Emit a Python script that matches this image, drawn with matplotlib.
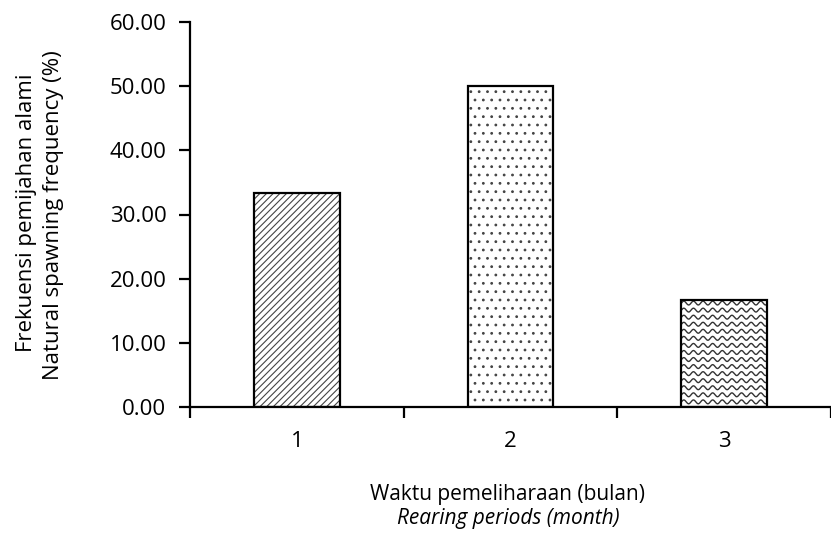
import numpy as np
import matplotlib.pyplot as plt

plt.rcParams['font.family'] = ['Open Sans', 'DejaVu Sans']
plt.rcParams['hatch.linewidth'] = 0.8

periods = [1, 2, 3]
period_labels = ['1', '2', '3']
spawning_freq = [33.33, 50.00, 16.67]
y_ticks = [0, 10, 20, 30, 40, 50, 60]

fig = plt.figure(figsize=(8.31, 5.38), dpi=100)
ax = fig.add_axes([190 / 831, 1 - 407 / 538, (831 - 190) / 831, (407 - 22) / 538])

x = np.array(periods)
# hatched fills first, black outlines on top
fills = ax.bar(x, spawning_freq, width=0.4, color='white', edgecolor='#444444',
               linewidth=0, zorder=2)
fills[0].set_hatch('/////')
fills[1].set_hatch('..')
bars = ax.bar(x, spawning_freq, width=0.4, color='none', edgecolor='black',
              linewidth=1.6, zorder=4)

# wavy fill for the third bar, clipped to its rectangle
b = fills[2]
bx0, bw, bh = b.get_x(), b.get_width(), b.get_height()
xs = np.linspace(bx0, bx0 + bw, 400)
for yy in np.arange(0.8, bh + 1.0, 1.1):
    line, = ax.plot(xs, yy + 0.3 * np.sin((xs - bx0) / 0.045 * 2 * np.pi),
                    color='#333333', lw=1.0, zorder=3)
    line.set_clip_path(b)

ax.set_xlim(0.5, 0.5 + (831 - 190) / 217)
ax.set_ylim(0, 60)
ax.set_yticks(y_ticks)
ax.set_yticklabels([f'{v:.2f}' for v in y_ticks])
ax.set_xticks(x)
ax.set_xticklabels(period_labels)
ax.set_xticks([0.5, 1.5, 2.5, 3.5], minor=True)
ax.tick_params(axis='x', which='major', length=0, pad=17, labelsize=16)
ax.tick_params(axis='x', which='minor', length=8, width=1.6, direction='out')
ax.tick_params(axis='y', length=8, width=1.6, direction='out', labelsize=16, pad=9)

for side in ['top', 'right']:
    ax.spines[side].set_visible(False)
for side in ['left', 'bottom']:
    ax.spines[side].set_linewidth(1.6)
ax.spines['bottom'].set_bounds(0.5, 3.5)

fig.text(508 / 831, 1 - 500 / 538, 'Waktu pemeliharaan (bulan)', ha='center', va='baseline', fontsize=15)
fig.text(508 / 831, 1 - 524 / 538, 'Rearing periods (month)', ha='center', va='baseline',
         fontsize=15, style='italic')
fig.text(27 / 831, 1 - 213 / 538, 'Frekuensi pemijahan alami', ha='center', va='center',
         rotation=90, fontsize=16)
fig.text(54 / 831, 1 - 215 / 538, 'Natural spawning frequency (%)', ha='center', va='center',
         rotation=90, fontsize=16)

fig.savefig('out.png', dpi=100)
